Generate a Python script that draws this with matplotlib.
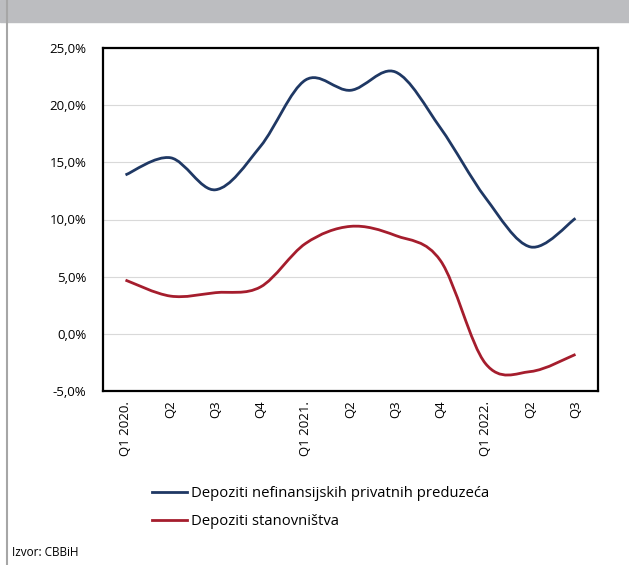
import matplotlib.pyplot as plt
from matplotlib.path import Path
from matplotlib.patches import PathPatch
from matplotlib.lines import Line2D
import numpy as np

plt.rcParams['font.family'] = ['Open Sans', 'DejaVu Sans']

quarters = ["Q1 2020.", "Q2", "Q3", "Q4", "Q1 2021.", "Q2", "Q3", "Q4",
            "Q1 2022.", "Q2", "Q3"]
preduzeca = [13.9, 15.4, 12.6, 16.4, 22.2, 21.3, 22.9, 18.0, 11.9, 7.6, 10.1]
stanovnistvo = [4.7, 3.3, 3.6, 4.1, 7.9, 9.4, 8.6, 6.4, -2.6, -3.3, -1.8]
labels = ["Depoziti nefinansijskih privatnih preduzeća", "Depoziti stanovništva"]
colors = ["#1f3864", "#a51d2d"]


# excel-like smooth line: cubic bezier through the points
def smooth_path(x, y):
    pts = np.column_stack([x, y])
    n = len(pts)
    verts = [pts[0]]
    codes = [Path.MOVETO]
    for i in range(n - 1):
        p0 = pts[max(i - 1, 0)]
        p1 = pts[i]
        p2 = pts[i + 1]
        p3 = pts[min(i + 2, n - 1)]
        c1 = p1 + (p2 - p0) / 6
        c2 = p2 - (p3 - p1) / 6
        verts += [c1, c2, p2]
        codes += [Path.CURVE4] * 3
    return Path(verts, codes)


fig = plt.figure(figsize=(6.29, 5.65), dpi=100)
ax = fig.add_axes([103 / 629, 1 - 391 / 565, 495 / 629, 343 / 565])

# grey banner and left border
fig.patches.append(plt.Rectangle((0, 1 - 22 / 565), 1, 22 / 565, transform=fig.transFigure,
                                 color="#bcbdc0", zorder=0))
fig.add_artist(Line2D([7 / 629, 7 / 629], [0, 1], transform=fig.transFigure,
                      color="#a6a6a6", lw=1.5))

x = np.arange(len(quarters))
for data, c in zip([preduzeca, stanovnistvo], colors):
    ax.add_patch(PathPatch(smooth_path(x, np.array(data)), fill=False,
                           edgecolor=c, lw=2.0, zorder=3))

ax.set_xlim(-0.5, len(quarters) - 0.5)
ax.set_ylim(-5, 25)
ax.set_yticks(np.arange(-5, 26, 5))
ax.set_yticklabels([f"{v:.1f}%".replace(".", ",") for v in np.arange(-5, 26, 5)],
                   fontsize=9.5)
ax.set_xticks(x)
ax.set_xticklabels(quarters, rotation=90, fontsize=9.5)
ax.tick_params(axis="y", length=0, pad=12)
ax.tick_params(axis="x", length=0, pad=7)
ax.grid(axis="y", color="#d9d9d9", lw=0.8)
ax.set_axisbelow(True)
for s in ax.spines.values():
    s.set_linewidth(1.6)
    s.set_color("black")

handles = [Line2D([], [], color=c, lw=2.0) for c in colors]
fig.legend(handles, labels, loc="upper left", bbox_to_anchor=(139 / 629, 1 - 473 / 565),
           frameon=False, fontsize=10.7, handlelength=2.3, handletextpad=0.3,
           labelspacing=0.85)

fig.text(12 / 629, 1 - 553 / 565, "Izvor: CBBiH", fontsize=8.5, va="center")

fig.savefig("out.png", dpi=100)
